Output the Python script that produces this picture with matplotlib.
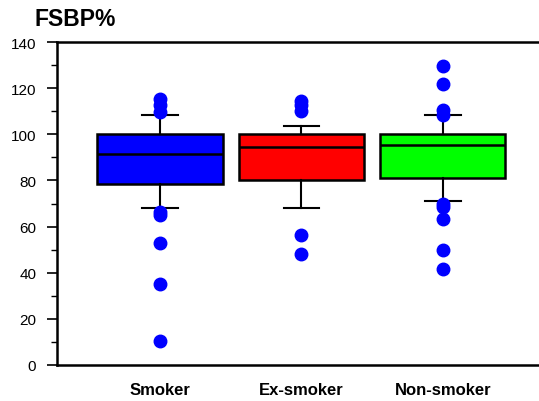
import matplotlib
matplotlib.use("Agg")
import matplotlib.pyplot as plt
from matplotlib.ticker import MultipleLocator

categories = ["Smoker", "Ex-smoker", "Non-smoker"]
colors = ["#0000ff", "#ff0000", "#00ff00"]
q1 = [78.3, 80.2, 80.9]
median = [91.3, 94.5, 95.4]
q3 = [100.0, 100.0, 100.0]
whislo = [67.9, 67.9, 71.1]
whishi = [108.4, 103.5, 108.4]
fliers = [
    [115.5, 112.5, 109.5, 66.5, 65.0, 52.9, 35.0, 10.4],
    [114.6, 112.5, 110.0, 56.3, 48.1],
    [129.7, 121.8, 110.5, 108.5, 69.8, 68.5, 63.3, 50.0, 41.6],
]

plt.rcParams['font.family'] = ['Liberation Sans', 'DejaVu Sans']

fig = plt.figure(figsize=(5.39, 4.02), dpi=100)
ax = fig.add_axes([57/539, 36/402, 482/539, 323/402])

stats = []
for i, c in enumerate(categories):
    stats.append(dict(label=c, q1=q1[i], med=median[i], q3=q3[i],
                      whislo=whislo[i], whishi=whishi[i], fliers=fliers[i]))

positions = [1, 2, 3]
bp = ax.bxp(stats, positions=positions, widths=0.885, patch_artist=True,
            capwidths=0.25,
            boxprops=dict(edgecolor='black', linewidth=1.8),
            medianprops=dict(color='black', linewidth=1.8),
            whiskerprops=dict(color='black', linewidth=1.5),
            capprops=dict(color='black', linewidth=1.5),
            flierprops=dict(marker='o', markerfacecolor='#0000ff',
                            markeredgecolor='#0000ff', markersize=9,
                            linestyle='none'))
for patch, col in zip(bp['boxes'], colors):
    patch.set_facecolor(col)

ax.set_xlim(0.272, 3.68)
ax.set_ylim(0, 140)
ax.yaxis.set_major_locator(MultipleLocator(20))
ax.yaxis.set_minor_locator(MultipleLocator(10))
ax.tick_params(axis='y', which='major', length=7, width=1.2, labelsize=11, pad=8)
ax.tick_params(axis='y', which='minor', length=4, width=1.0)
ax.tick_params(axis='x', which='both', length=0, labelsize=12, pad=12)
ax.set_xticks(positions)
ax.set_xticklabels(categories, fontweight='bold')

ax.spines['right'].set_visible(False)
for s in ['left', 'top', 'bottom']:
    ax.spines[s].set_linewidth(1.8)
    ax.spines[s].set_color('black')

fig.text(35/539, 1 - 19/402, "FSBP%", fontsize=16.5, fontweight='bold',
         ha='left', va='center')

fig.savefig("out.png", dpi=100)
